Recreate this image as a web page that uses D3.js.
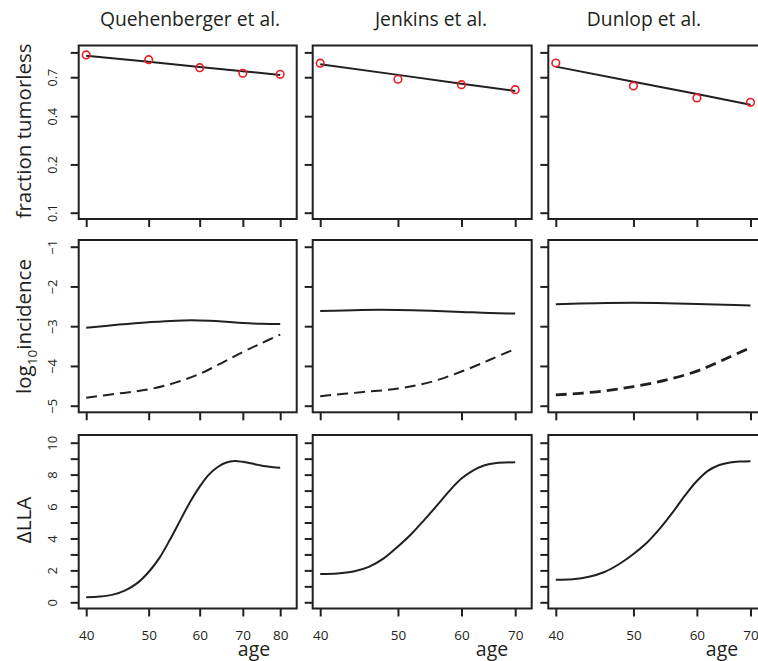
<!DOCTYPE html>
<html>
<head>
<meta charset="utf-8">
<script src="https://cdn.jsdelivr.net/npm/d3@7"></script>
<style>
  body { margin: 0; background: #fff; }
  svg { display: block; font-family: "Open Sans", "Noto Sans", sans-serif; }
</style>
</head>
<body>
<svg id="chart" width="758" height="661"></svg>
<script>
// ---- data -------------------------------------------------------------
const studies = ["Quehenberger et al.", "Jenkins et al.", "Dunlop et al."];

// observed fraction tumorless by age (red circles) and fitted model (line)
const obsAgesQ = [40, 50, 60, 70, 80];
const obsAgesJD = [40, 50, 60, 70];
const obsFracQ = [0.964, 0.901, 0.803, 0.741, 0.730];
const obsFracJ = [0.856, 0.680, 0.629, 0.585];
const obsFracD = [0.859, 0.617, 0.520, 0.488];
const fitFracQ = [0.954, 0.873, 0.811, 0.764, 0.723];
const fitFracJ = [0.843, 0.724, 0.638, 0.575];
const fitFracD = [0.815, 0.656, 0.550, 0.472];

// log10 incidence: solid = model A, dashed = model B
const incAgesQ = [40, 45, 50, 55, 60, 65, 70, 75, 80];
const incAgesJD = [40, 45, 50, 55, 60, 65, 70];
const incSolidQ = [-3.04, -2.96, -2.90, -2.86, -2.855, -2.88, -2.92, -2.94, -2.945];
const incDashQ  = [-4.80, -4.69, -4.59, -4.42, -4.20, -3.92, -3.65, -3.42, -3.21];
const incSolidJ = [-2.62, -2.59, -2.59, -2.61, -2.64, -2.67, -2.68];
const incDashJ  = [-4.76, -4.66, -4.57, -4.40, -4.14, -3.85, -3.57];
const incSolidD = [-2.45, -2.42, -2.41, -2.42, -2.44, -2.46, -2.48];
const incDashD  = [-4.73, -4.65, -4.52, -4.35, -4.13, -3.83, -3.54];

// difference in log-likelihood by age
const llaAgesQ = [40, 42, 44, 46, 48, 50, 52, 54, 56, 58, 60, 62, 64, 66, 68, 70, 72, 74, 76, 78, 80];
const llaAgesJD = [40, 42, 44, 46, 48, 50, 52, 54, 56, 58, 60, 62, 64, 66, 68, 70];
const dllaQ = [0.31, 0.36, 0.48, 0.75, 1.20, 1.90, 2.80, 3.95, 5.15, 6.30, 7.25, 8.00, 8.48, 8.76, 8.85, 8.80, 8.71, 8.61, 8.52, 8.46, 8.43];
const dllaJ = [1.78, 1.81, 1.93, 2.22, 2.75, 3.50, 4.30, 5.20, 6.10, 7.00, 7.75, 8.25, 8.57, 8.71, 8.76, 8.77];
const dllaD = [1.42, 1.45, 1.60, 1.90, 2.40, 3.03, 3.75, 4.65, 5.65, 6.70, 7.60, 8.25, 8.60, 8.76, 8.82, 8.84];

// axis ticks
const xTicksQ = [40, 50, 60, 70, 80];
const xTicksJD = [40, 50, 60, 70];
const fracTicks = [0.1, 0.2, 0.4, 0.7, 1.0];
const fracTickLabels = ["0.1", "0.2", "0.4", "0.7", ""];
const incTicks = [-5, -4, -3, -2, -1];
const llaTicks = [0, 1, 2, 3, 4, 5, 6, 7, 8, 9, 10];
const llaTickLabels = ["0", "", "2", "", "4", "", "6", "", "8", "", "10"];

// ---- layout -----------------------------------------------------------
const INK = "#231f20";
const RED = "#ec1c24";
const svg = d3.select("#chart");

const cols = [
  { x0: 78.7, x1: 296.7, maxAge: 80, titleX: 190 },
  { x0: 312.7, x1: 531.7, maxAge: 70, titleX: 431 },
  { x0: 548.3, x1: 767.0, maxAge: 70, titleX: 644 }
];
const rows = [
  { y0: 45.5, y1: 219.0 },
  { y0: 240.0, y1: 412.3 },
  { y0: 435.0, y1: 608.5 }
];

const xScales = cols.map(c =>
  d3.scaleLog().domain([40, c.maxAge]).range([c.x0 + 7.5, c.x1 - 16.5]));

const yFrac = d3.scaleLog().domain([0.1, 1]).range([212.7, 52.4]);
const yInc = d3.scaleLinear().domain([-5, -1]).range([405.7, 246.7]);
const yLla = d3.scaleLinear().domain([0, 10]).range([602.3, 442.7]);

// column titles
cols.forEach((c, i) => {
  svg.append("text")
    .attr("x", c.titleX).attr("y", 26)
    .attr("text-anchor", "middle")
    .attr("font-size", 19.3)
    .attr("fill", INK)
    .text(studies[i]);
});

// row labels (rotated)
function rowLabel(cy, build) {
  const t = svg.append("text")
    .attr("transform", `translate(31,${cy}) rotate(-90)`)
    .attr("text-anchor", "middle")
    .attr("font-size", 20.5)
    .attr("fill", INK);
  build(t);
}
rowLabel(131, t => t.text("fraction tumorless"));
rowLabel(326.5, t => {
  t.append("tspan").text("log");
  t.append("tspan").attr("font-size", 13.5).attr("dy", 5.5).text("10");
  t.append("tspan").attr("dy", -5.5).text("incidence");
});
rowLabel(520, t => t.text("\u0394LLA"));

// ---- panels -----------------------------------------------------------
function frame(c, r) {
  svg.append("rect")
    .attr("x", c.x0).attr("y", r.y0)
    .attr("width", c.x1 - c.x0).attr("height", r.y1 - r.y0)
    .attr("fill", "none").attr("stroke", INK).attr("stroke-width", 2);
}

function leftAxis(c, scale, ticks, labels, showLabels, fontSize) {
  const g = svg.append("g").attr("transform", `translate(${c.x0},0)`)
    .call(d3.axisLeft(scale).tickValues(ticks).tickSize(8)
      .tickFormat((d, i) => showLabels ? labels[i] : ""));
  g.select(".domain").remove();
  g.selectAll(".tick line").attr("stroke", INK).attr("stroke-width", 2);
  g.selectAll(".tick text")
    .attr("x", null).attr("dy", null)
    .attr("text-anchor", "middle")
    .attr("transform", "translate(-21.5,0) rotate(-90)")
    .attr("fill", INK)
    .attr("font-size", fontSize)
    .attr("font-family", "\"Open Sans\", sans-serif");
}

function bottomAxis(c, r, scale, ticks, showLabels) {
  const g = svg.append("g").attr("transform", `translate(0,${r.y1})`)
    .call(d3.axisBottom(scale).tickValues(ticks).tickSize(8)
      .tickFormat(d => showLabels ? String(d) : ""));
  g.select(".domain").remove();
  g.selectAll(".tick line").attr("stroke", INK).attr("stroke-width", 2);
  g.selectAll(".tick text")
    .attr("y", 31.5).attr("dy", null)
    .attr("fill", INK)
    .attr("font-size", 13.5)
    .attr("font-family", "\"Open Sans\", sans-serif");
}

function curve(x, y, ages, vals, opts) {
  const line = d3.line()
    .x((d, i) => x(ages[i]))
    .y(d => y(d))
    .curve(opts.smooth ? d3.curveCatmullRom.alpha(0.5) : d3.curveLinear);
  svg.append("path")
    .attr("d", line(vals))
    .attr("fill", "none")
    .attr("stroke", INK)
    .attr("stroke-width", opts.width || 2)
    .attr("stroke-dasharray", opts.dash || null)
    .attr("stroke-linecap", "butt");
}

function points(x, y, ages, vals) {
  svg.append("g").selectAll("circle")
    .data(vals).join("circle")
    .attr("cx", (d, i) => x(ages[i]))
    .attr("cy", d => y(d))
    .attr("r", 3.8)
    .attr("fill", "none")
    .attr("stroke", RED)
    .attr("stroke-width", 1.6);
}

const obsAges = [obsAgesQ, obsAgesJD, obsAgesJD];
const obsFrac = [obsFracQ, obsFracJ, obsFracD];
const fitFrac = [fitFracQ, fitFracJ, fitFracD];
const incAges = [incAgesQ, incAgesJD, incAgesJD];
const incSolid = [incSolidQ, incSolidJ, incSolidD];
const incDash = [incDashQ, incDashJ, incDashD];
const llaAges = [llaAgesQ, llaAgesJD, llaAgesJD];
const dlla = [dllaQ, dllaJ, dllaD];
const xTicks = [xTicksQ, xTicksJD, xTicksJD];

cols.forEach((c, i) => {
  const x = xScales[i];
  const first = i === 0;

  // row 1: fraction tumorless
  leftAxis(c, yFrac, fracTicks, fracTickLabels, first, 12.5);
  bottomAxis(c, rows[0], x, xTicks[i], false);
  curve(x, yFrac, obsAges[i], fitFrac[i], { smooth: false });
  points(x, yFrac, obsAges[i], obsFrac[i]);
  frame(c, rows[0]);

  // row 2: log10 incidence
  leftAxis(c, yInc, incTicks, incTicks.map(d => String(d).replace("-", "\u2212")), first, 13);
  bottomAxis(c, rows[1], x, xTicks[i], false);
  curve(x, yInc, incAges[i], incSolid[i], { smooth: true });
  curve(x, yInc, incAges[i], incDash[i], { smooth: true, dash: "11,6", width: i === 2 ? 2.8 : 2 });
  frame(c, rows[1]);

  // row 3: delta LLA
  leftAxis(c, yLla, llaTicks, llaTickLabels, first, 13);
  bottomAxis(c, rows[2], x, xTicks[i], true);
  curve(x, yLla, llaAges[i], dlla[i], { smooth: true });
  frame(c, rows[2]);
});

// x-axis titles
const ageLabelX = [254, 492, 722];
ageLabelX.forEach(ax => {
  svg.append("text")
    .attr("x", ax).attr("y", 656)
    .attr("text-anchor", "middle")
    .attr("font-size", 19.5)
    .attr("fill", INK)
    .text("age");
});
</script>
</body>
</html>
